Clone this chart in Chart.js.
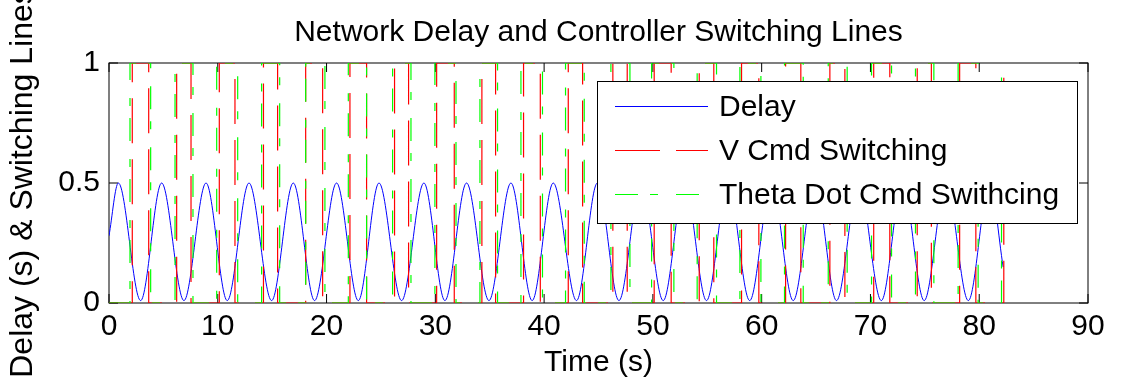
<!DOCTYPE html>
<html>
<head>
<meta charset="utf-8">
<title>Network Delay and Controller Switching Lines</title>
<script src="https://cdn.jsdelivr.net/npm/chart.js@4.4.1/dist/chart.umd.min.js"></script>
<style>
  html, body { margin: 0; padding: 0; background: #fff; }
  #plot { display: block; }
</style>
</head>
<body>
<canvas id="plot" width="1121" height="389"></canvas>
<script>
// axis ticks
const timeTicks = [0, 10, 20, 30, 40, 50, 60, 70, 80, 90];
const levelTicks = [0, 0.5, 1];

// network delay: turning points of the delay signal (time in s, delay in s)
const delayTimes = [0, 0.86, 2.91, 4.84, 6.89, 8.92, 10.87, 12.87, 14.95, 16.94, 18.9,
  20.92, 22.92, 24.82, 26.9, 28.95, 30.88, 32.87, 34.93, 36.95, 38.9, 40.84, 42.98,
  44.9, 46.88, 48.9, 50.95, 52.92, 54.93, 56.9, 58.9, 60.9, 62.9, 64.9, 66.88, 68.92,
  71.0, 72.95, 74.94, 76.95, 79.0, 80.95, 82.2];
const delayValues = [0.28, 0.5, 0.01, 0.5, 0.01, 0.5, 0.01, 0.5, 0.01, 0.5, 0.01,
  0.5, 0.01, 0.5, 0.01, 0.5, 0.01, 0.5, 0.01, 0.5, 0.01, 0.5, 0.01,
  0.5, 0.01, 0.5, 0.01, 0.5, 0.01, 0.5, 0.01, 0.5, 0.01, 0.5, 0.01, 0.5,
  0.01, 0.5, 0.01, 0.5, 0.01, 0.5, 0.15];

// switching instants and the state each command takes from that instant on
const vCmdTimes = [0, 2.14, 3.65, 6.22, 7.54, 10.14, 11.58, 14.2, 15.5, 18.08, 19.64,
  22.15, 23.68, 26.25, 27.54, 30.12, 31.74, 34.28, 35.54, 38.11, 39.65, 42.22, 43.54,
  46.32, 47.64, 50.12, 51.68, 54.26, 55.6, 58.15, 59.74, 62.2, 63.6, 66.27, 67.65,
  70.3, 71.78, 74.3, 75.6, 78.2, 79.69, 82.26];
const vCmdStates = [0, 1, 0, 1, 0, 1, 0, 1, 0, 1, 0,
  1, 0, 1, 0, 1, 0, 1, 0, 1, 0, 1, 0,
  1, 0, 1, 0, 1, 0, 1, 0, 1, 0, 1, 0,
  1, 0, 1, 0, 1, 0, 1];

const thetaDotTimes = [0, 1.93, 3.83, 6.07, 7.72, 9.9, 11.83, 14.03, 15.69, 18.08, 19.85,
  22.0, 23.68, 26.07, 27.76, 29.96, 31.9, 34.1, 35.72, 37.87, 39.85, 41.97, 43.69,
  46.14, 47.89, 49.88, 51.93, 54.07, 55.85, 58.0, 59.93, 62.1, 63.82, 66.12, 67.86,
  70.1, 71.94, 74.14, 75.83, 78.06, 79.9, 82.05];
const thetaDotStates = [0, 1, 0, 1, 0, 1, 0, 1, 0, 1, 0,
  1, 0, 1, 0, 1, 0, 1, 0, 1, 0, 1, 0,
  1, 0, 1, 0, 1, 0, 1, 0, 1, 0, 1, 0,
  1, 0, 1, 0, 1, 0, 1];

const FONT = '"Liberation Sans", Arial, Helvetica, sans-serif';

function toPoints(xs, ys) {
    return xs.map((x, i) => ({ x: x, y: ys[i] }));
}

// box round the axes with the ticks pointing inwards
const axesBox = {
    id: 'axesBox',
    beforeDatasetsDraw(chart, args, opts) {
        const { ctx, chartArea: a, scales: { x, y } } = chart;
        const len = opts.tickLength;
        ctx.save();
        ctx.strokeStyle = '#000';
        ctx.lineWidth = 1;
        ctx.beginPath();
        x.ticks.forEach(t => {
            const px = x.getPixelForValue(t.value);
            ctx.moveTo(px, a.bottom); ctx.lineTo(px, a.bottom - len);
            ctx.moveTo(px, a.top); ctx.lineTo(px, a.top + len);
        });
        y.ticks.forEach(t => {
            const py = y.getPixelForValue(t.value);
            ctx.moveTo(a.left, py); ctx.lineTo(a.left + len, py);
            ctx.moveTo(a.right, py); ctx.lineTo(a.right - len, py);
        });
        ctx.stroke();
        ctx.strokeRect(a.left, a.top, a.right - a.left, a.bottom - a.top);
        ctx.restore();
    }
};

// legend drawn as a framed box inside the plot area
const boxLegend = {
    id: 'boxLegend',
    afterDraw(chart, args, opts) {
        const { ctx, chartArea: a } = chart;
        const left = a.right - opts.right - opts.width;
        const top = a.top + opts.top;
        ctx.save();
        ctx.fillStyle = '#fff';
        ctx.fillRect(left, top, opts.width, opts.height);
        ctx.strokeStyle = '#000';
        ctx.lineWidth = 1;
        ctx.strokeRect(left + 0.5, top + 0.5, opts.width, opts.height);
        ctx.font = opts.fontSize + 'px ' + FONT;
        ctx.textBaseline = 'middle';
        chart.data.datasets.forEach((ds, i) => {
            const yy = top + opts.firstRow + i * opts.rowGap;
            ctx.strokeStyle = ds.borderColor;
            ctx.lineWidth = ds.borderWidth;
            ctx.setLineDash(ds.borderDash || []);
            ctx.beginPath();
            ctx.moveTo(left + opts.sampleStart, yy + 0.5);
            ctx.lineTo(left + opts.sampleEnd, yy + 0.5);
            ctx.stroke();
            ctx.setLineDash([]);
            ctx.fillStyle = '#000';
            ctx.fillText(ds.label, left + opts.textStart, yy + 2);
        });
        ctx.restore();
    }
};

const tickFont = { family: FONT, size: 30 };

new Chart(document.getElementById('plot'), {
    type: 'line',
    data: {
        datasets: [
            {
                label: 'Delay',
                data: toPoints(delayTimes, delayValues),
                borderColor: '#0000ff',
                borderWidth: 1,
                pointRadius: 0,
                cubicInterpolationMode: 'monotone',
                order: 3
            },
            {
                label: 'V Cmd Switching',
                data: toPoints(vCmdTimes, vCmdStates),
                borderColor: '#ff0000',
                borderWidth: 1.2,
                borderDash: [45, 16],
                stepped: 'before',
                pointRadius: 0,
                order: 2
            },
            {
                label: 'Theta Dot Cmd Swithcing',
                data: toPoints(thetaDotTimes, thetaDotStates),
                borderColor: '#00ff00',
                borderWidth: 1.2,
                borderDash: [23, 12, 8, 18],
                stepped: 'before',
                pointRadius: 0,
                order: 1
            }
        ]
    },
    options: {
        responsive: false,
        devicePixelRatio: 1,
        animation: false,
        events: [],
        layout: { padding: { left: 0, right: 33, top: 0, bottom: 0 } },
        plugins: {
            legend: { display: false },
            tooltip: { enabled: false },
            title: {
                display: true,
                fullSize: false,
                text: 'Network Delay and Controller Switching Lines',
                color: '#000',
                font: { family: FONT, size: 30, weight: 'normal' },
                padding: { top: 15, bottom: 12 }
            },
            axesBox: { tickLength: 9 },
            boxLegend: {
                right: 11, top: 18, width: 480, height: 142,
                firstRow: 25, rowGap: 44,
                sampleStart: 18, sampleEnd: 111, textStart: 122,
                fontSize: 30
            }
        },
        scales: {
            x: {
                type: 'linear',
                min: 0,
                max: 90,
                afterBuildTicks: s => { s.ticks = timeTicks.map(v => ({ value: v })); },
                afterFit: s => { s.height = 86; },
                grid: { display: false, drawTicks: false },
                border: { display: false },
                ticks: { color: '#000', font: tickFont, padding: 6, maxRotation: 0, autoSkip: false,
                    callback: v => String(v) },
                title: {
                    display: true,
                    text: 'Time (s)',
                    color: '#000',
                    font: tickFont,
                    padding: { top: 0, bottom: 8 }
                }
            },
            y: {
                type: 'linear',
                min: 0,
                max: 1,
                afterBuildTicks: s => { s.ticks = levelTicks.map(v => ({ value: v })); },
                afterFit: s => { s.width = 109; },
                grid: { display: false, drawTicks: false },
                border: { display: false },
                ticks: { color: '#000', font: tickFont, padding: 9, callback: v => String(v) },
                title: {
                    display: true,
                    text: 'Delay (s) & Switching Lines',
                    color: '#000',
                    font: { family: FONT, size: 32 },
                    padding: { top: 4, bottom: 0 }
                }
            }
        }
    },
    plugins: [axesBox, boxLegend]
});
</script>
</body>
</html>
